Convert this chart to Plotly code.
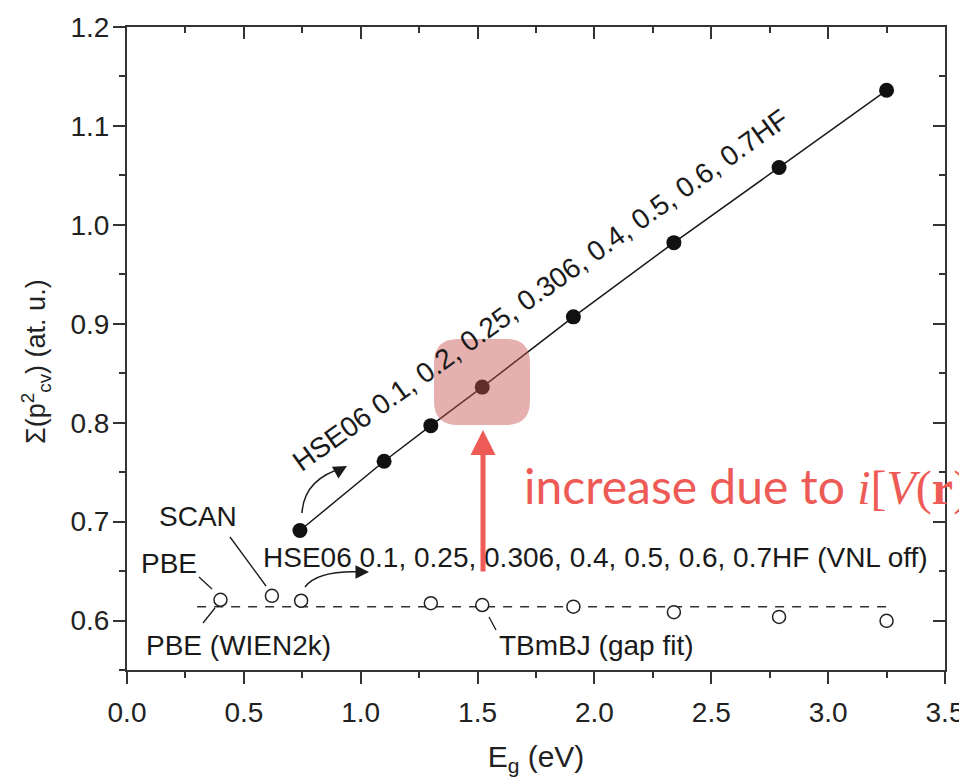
import plotly.graph_objects as go

# ---------------- data ----------------
hse_eg = [0.74, 1.10, 1.30, 1.52, 1.91, 2.34, 2.79, 3.25]
hse_p2 = [0.691, 0.761, 0.797, 0.836, 0.907, 0.982, 1.058, 1.136]

vnl_off_eg = [0.40, 0.62, 0.745, 1.30, 1.52, 1.91, 2.34, 2.79, 3.25]
vnl_off_p2 = [0.621, 0.625, 0.620, 0.6175, 0.6157, 0.614, 0.6085, 0.6037, 0.5997]

ref_eg = [0.30, 3.27]
ref_p2 = [0.614, 0.614]

x_range = [0, 3.5]
y_range = [0.55, 1.2]

# ---------------- layout geometry ----------------
OFF = 8                      # page body margin
W, H = 967 - OFF, 777 - OFF
PL, PR, PT, PB = 127, 945, 27, 670   # plot area in page pixels
ML, MR, MT, MB = PL - OFF, W - (PR - OFF), PT - OFF, H - (PB - OFF)


def X(px):
    return x_range[0] + (px - PL) / (PR - PL) * (x_range[1] - x_range[0])


def Y(py):
    return y_range[1] - (py - PT) / (PB - PT) * (y_range[1] - y_range[0])


def PX(px):
    return (px - PL) / (PR - PL)


def PY(py):
    return (PB - py) / (PB - PT)


FONT = "Liberation Sans, Arial, Helvetica, sans-serif"
INK = "#1a1a1a"
RED = "#EE5A55"
FS = 28

fig = go.Figure()

fig.add_trace(go.Scatter(
    x=ref_eg, y=ref_p2, mode="lines",
    line=dict(color="#333333", width=1.5, dash="9px,8px"),
    showlegend=False, hoverinfo="skip"))

fig.add_trace(go.Scatter(
    x=vnl_off_eg, y=vnl_off_p2, mode="markers",
    marker=dict(size=13, color="white", line=dict(color="#222222", width=1.5)),
    showlegend=False, name="VNL off"))

fig.add_trace(go.Scatter(
    x=hse_eg, y=hse_p2, mode="lines+markers",
    line=dict(color="#1a1a1a", width=1.5),
    marker=dict(size=15, color="#111111"),
    showlegend=False, name="HSE06"))

# dummy trace for mirrored axes
fig.add_trace(go.Scatter(x=[None], y=[None], xaxis="x2", yaxis="y2",
                         showlegend=False, hoverinfo="skip"))

shapes = []
# leader lines
for (x0, y0, x1, y1) in [(230, 537, 266, 586), (199, 577, 212, 589),
                         (203, 623, 215, 608), (489, 617, 496, 630)]:
    shapes.append(dict(type="line", xref="x", yref="y",
                       x0=X(x0), y0=Y(y0), x1=X(x1), y1=Y(y1),
                       line=dict(color=INK, width=1.3)))
# curved arrows
shapes.append(dict(type="path", xref="x", yref="y",
                   path=f"M {X(302)},{Y(513)} Q {X(304)},{Y(479)} {X(343)},{Y(468)}",
                   line=dict(color=INK, width=1.5)))
shapes.append(dict(type="path", xref="x", yref="y",
                   path=f"M {X(305)},{Y(587)} Q {X(318)},{Y(570)} {X(362)},{Y(572)}",
                   line=dict(color=INK, width=1.5)))
# highlight rounded box
bx0, by0, bx1, by1, r = 434, 339, 530, 425, 24
p = (f"M {X(bx0+r)},{Y(by0)} L {X(bx1-r)},{Y(by0)} Q {X(bx1)},{Y(by0)} {X(bx1)},{Y(by0+r)} "
     f"L {X(bx1)},{Y(by1-r)} Q {X(bx1)},{Y(by1)} {X(bx1-r)},{Y(by1)} "
     f"L {X(bx0+r)},{Y(by1)} Q {X(bx0)},{Y(by1)} {X(bx0)},{Y(by1-r)} "
     f"L {X(bx0)},{Y(by0+r)} Q {X(bx0)},{Y(by0)} {X(bx0+r)},{Y(by0)} Z")
shapes.append(dict(type="path", xref="x", yref="y", path=p, layer="above",
                   fillcolor="rgba(198,80,74,0.45)", line=dict(width=0)))

annotations = []


def txt(t, px, py, xanchor="left", angle=0, size=FS):
    annotations.append(dict(text=t, x=X(px), y=Y(py), xref="x", yref="y",
                            xanchor=xanchor, yanchor="middle", showarrow=False,
                            textangle=angle,
                            font=dict(family=FONT, size=size, color=INK)))


txt("SCAN", 198, 516, "center")
txt("PBE", 169, 563, "center")
txt("PBE (WIEN2k)", 144, 645)
txt("HSE06 0.1, 0.25, 0.306, 0.4, 0.5, 0.6, 0.7HF (VNL off)", 261, 557)
txt("TBmBJ (gap fit)", 497, 645)
txt("HSE06 0.1, 0.2, 0.25, 0.306, 0.4, 0.5, 0.6, 0.7HF", 540, 290, "center", -35.5)

# y-axis title (paper coordinates so it may sit outside the plot area)
annotations.append(dict(text="Σ(p<sup>2</sup><sub>cv</sub>) (at. u.)",
                        x=PX(36), y=PY(362), xref="paper", yref="paper",
                        xanchor="center", yanchor="middle", showarrow=False,
                        textangle=-90,
                        font=dict(family=FONT, size=27, color="#222222")))

# arrowheads of curved arrows
annotations.append(dict(x=X(347), y=Y(466), xref="x", yref="y", text="", showarrow=True,
                        ax=-9, ay=5, arrowhead=2, arrowsize=1.8, arrowwidth=1.5,
                        arrowcolor=INK, standoff=0))
annotations.append(dict(x=X(369), y=Y(572), xref="x", yref="y", text="", showarrow=True,
                        ax=-10, ay=0, arrowhead=2, arrowsize=1.8, arrowwidth=1.5,
                        arrowcolor=INK, standoff=0))
# red arrow
annotations.append(dict(x=X(483), y=Y(430), xref="x", yref="y", text="", showarrow=True,
                        ax=X(483), ay=Y(573), axref="x", ayref="y",
                        arrowhead=2, arrowsize=1.0, arrowwidth=5, arrowcolor=RED, standoff=0))
# red text
annotations.append(dict(
    text='increase due to <span style="font-family:Liberation Serif, Times New Roman, serif">'
         '<i>i</i>[<i>V</i>(<b>r</b>), <b>r</b>]</span>',
    x=X(522), y=Y(486), xref="x", yref="y", xanchor="left", yanchor="middle",
    showarrow=False, font=dict(family="Lato, Open Sans, sans-serif", size=48, color=RED)))

axis_common = dict(
    showline=True, linewidth=2, linecolor="#333333", mirror=False,
    showgrid=False, zeroline=False, tickcolor="#333333", tickwidth=1.8,
    tickfont=dict(family=FONT, size=FS, color="#222222"),
)

fig.update_layout(
    width=W, height=H,
    margin=dict(l=ML, r=MR, t=MT, b=MB, autoexpand=False),
    plot_bgcolor="white", paper_bgcolor="white",
    shapes=shapes, annotations=annotations,
    xaxis=dict(range=x_range, dtick=0.5, tick0=0, tickformat=".1f",
               ticks="outside", ticklen=12, ticklabelstandoff=4,
               minor=dict(dtick=0.25, ticks="outside", ticklen=6, tickwidth=1.5,
                          tickcolor="#333333", showgrid=False),
               title=dict(text="E<sub>g</sub> (eV)", standoff=28,
                          font=dict(family=FONT, size=30, color="#222222")),
               **axis_common),
    yaxis=dict(range=y_range, dtick=0.1, tick0=0, tickformat=".1f",
               ticks="outside", ticklen=12, ticklabelstandoff=-2,
               minor=dict(dtick=0.05, ticks="outside", ticklen=6, tickwidth=1.5,
                          tickcolor="#333333", showgrid=False),
               **axis_common),
    xaxis2=dict(range=x_range, overlaying="x", side="top", anchor="y2",
                dtick=0.5, tick0=0, ticks="inside", ticklen=12, showticklabels=False,
                minor=dict(dtick=0.25, ticks="inside", ticklen=6, tickwidth=1.5,
                           tickcolor="#333333"),
                **axis_common),
    yaxis2=dict(range=y_range, overlaying="y", side="right", anchor="x2",
                dtick=0.1, tick0=0, ticks="inside", ticklen=12, showticklabels=False,
                minor=dict(dtick=0.05, ticks="inside", ticklen=6, tickwidth=1.5,
                           tickcolor="#333333"),
                **axis_common),
)

fig.write_html("out.html")
